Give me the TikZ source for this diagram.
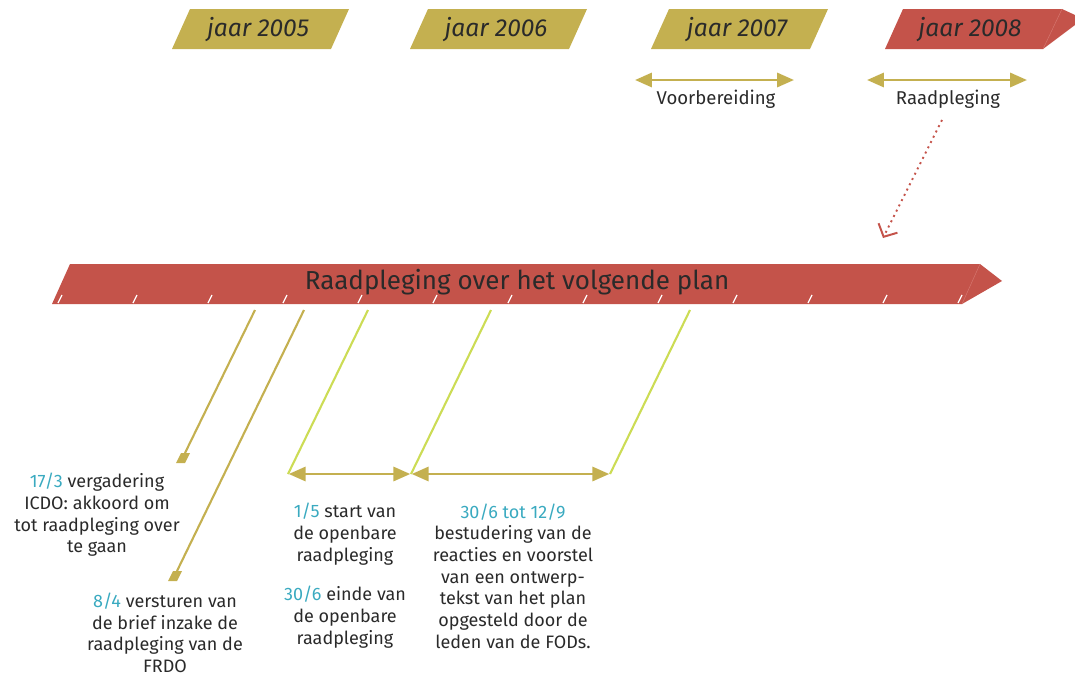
\documentclass[tikz,border=0pt]{standalone}
\usepackage{fontspec}
\setmainfont{Fira Sans}
\usetikzlibrary{arrows.meta}
\definecolor{goud}{HTML}{C4B050}
\definecolor{rood}{HTML}{C4534A}
\definecolor{naad}{HTML}{D77A72}
\definecolor{limoen}{HTML}{CCDC55}
\definecolor{cyaan}{HTML}{3AAAC0}
\definecolor{inkt}{HTML}{2A2A2A}
\newcommand{\datum}[1]{\textcolor{cyaan}{#1}}

\begin{document}
\begin{tikzpicture}[x=0.025cm,y=-0.025cm]
\tikzstyle{every node}=[text=inkt,font=\fontsize{12.8}{15.4}\selectfont]
\tikzstyle{jaar}=[font=\fontsize{17.5}{19}\selectfont\itshape]
\tikzstyle{uitleg}=[align=center,inner sep=0pt]
\tikzstyle{pijl}=[goud,line width=2pt,{Triangle[length=12pt,width=10pt]}-{Triangle[length=12pt,width=10pt]}]
\tikzstyle{streep}=[line width=1.5pt]
\useasboundingbox (0,0) rectangle (1075,677);

\foreach \x/\j in {172/2005,410/2006,651/2007}{
\fill[goud] (\x,49) -- ++(18,-40) -- ++(159,0) -- ++(-18,40) -- cycle;
\node[jaar] (j\j) at (\x+86,30) {jaar \j};
}
\fill[rood] (885,49) -- (903,9) -- (1062,9) -- (1075,15) -- (1075,25) -- (1043,49) -- cycle;
\draw[naad,line width=0.3pt] (1062,9) -- (1043,49);
\node[jaar] (j2008) at (970,30) {jaar 2008};

\coordinate (vb1) at (635,80);
\coordinate (vb2) at (794,80);
\coordinate (rp1) at (867,80);
\coordinate (rp2) at (1027,80);
\draw[pijl] (vb1) -- (vb2);
\draw[pijl] (rp1) -- (rp2);
\node[font=\fontsize{13.2}{15}\selectfont] (voorb) at (716,99) {Voorbereiding};
\node[font=\fontsize{13.2}{15}\selectfont] (raadp) at (948,99) {Raadpleging};

\coordinate (st) at (942,120);
\coordinate (sp) at (883,238);
\draw[rood,line width=1.4pt,dash pattern=on 1.4pt off 2.8pt,-{Straight Barb[length=7pt,width=15pt,line width=1.4pt]}] (st) -- (sp);

\fill[rood] (52,304) -- (70,264) -- (980,264) -- (1002,281) -- (962,304) -- cycle;
\draw[naad,line width=0.3pt] (980,264) -- (962,304);
\foreach \i in {0,...,12}
\draw[white,line width=0.9pt] (58+75*\i,303) -- ++(4,-8);
\node[font=\fontsize{18.5}{20}\selectfont] (titel) at (517,282) {Raadpleging over het volgende plan};

\coordinate (b1) at (255,310);
\coordinate (e1) at (185,453);
\coordinate (b2) at (304,310);
\coordinate (e2) at (177,571);
\draw[goud,streep] (b1) -- (e1);
\draw[goud,streep] (b2) -- (e2);
\foreach \e in {e1,e2}
\fill[goud] (\e) ++(-4,0) -- ++(9,0) -- ++(-5,10) -- ++(-9,0) -- cycle;

\coordinate (c1) at (368,310);
\coordinate (a1) at (288,474);
\coordinate (c2) at (491,310);
\coordinate (a2) at (411,474);
\coordinate (c3) at (690,310);
\coordinate (a3) at (610,474);
\draw[limoen,streep] (c1) -- (a1);
\draw[limoen,streep] (c2) -- (a2);
\draw[limoen,streep] (c3) -- (a3);
\draw[pijl,shorten <=0.5pt,shorten >=0.5pt] (a1) -- (a2);
\draw[pijl,shorten <=0.5pt,shorten >=0.5pt] (a2) -- (a3);

\node[uitleg] (t1) at (97,515) {\datum{17/3} vergadering\\ICDO: akkoord om\\tot raadpleging over\\te gaan};
\node[uitleg] (t2) at (165,633) {\datum{8/4} versturen van\\de brief inzake de\\raadpleging van de\\FRDO};
\node[uitleg] (t3) at (345,534) {\datum{1/5} start van\\de openbare\\raadpleging};
\node[uitleg] (t4) at (345,617) {\datum{30/6} einde van\\de openbare\\raadpleging};
\node[uitleg] (t5) at (513,576) {\datum{30/6 tot 12/9}\\bestudering van de\\reacties en voorstel\\van een ontwerp-\\tekst van het plan\\opgesteld door de\\leden van de FODs.};
\end{tikzpicture}
\end{document}
